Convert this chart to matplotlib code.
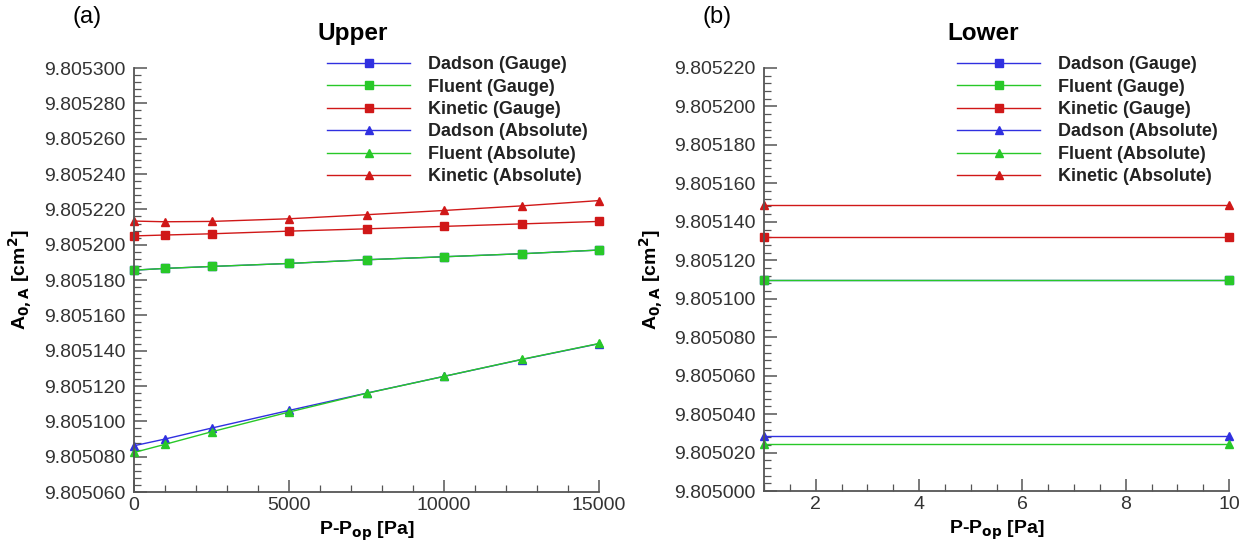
import matplotlib
matplotlib.use("Agg")
import matplotlib.pyplot as plt
from matplotlib.ticker import MultipleLocator, FormatStrFormatter

plt.rcParams["font.family"] = ["Liberation Sans", "DejaVu Sans"]

# dados (a) upper
p_upper = [0, 1000, 2500, 5000, 7500, 10000, 12500, 15000]
dadson_gauge_up = [9.8051856, 9.8051866, 9.8051877, 9.8051894, 9.8051915, 9.8051932, 9.8051949, 9.8051970]
fluent_gauge_up = [9.8051856, 9.8051866, 9.8051877, 9.8051894, 9.8051915, 9.8051932, 9.8051949, 9.8051970]
kinetic_gauge_up = [9.8052050, 9.8052055, 9.8052062, 9.8052077, 9.8052090, 9.8052104, 9.8052118, 9.8052132]
dadson_abs_up = [9.8050862, 9.8050900, 9.8050962, 9.8051062, 9.8051160, 9.8051255, 9.8051350, 9.8051440]
fluent_abs_up = [9.8050824, 9.8050870, 9.8050941, 9.8051053, 9.8051159, 9.8051255, 9.8051351, 9.8051441]
kinetic_abs_up = [9.8052134, 9.8052130, 9.8052132, 9.8052147, 9.8052170, 9.8052194, 9.8052220, 9.8052250]

# dados do grafico (b) lower
p_lower = [1, 10]
dadson_gauge_lo = [9.8051100, 9.8051100]
fluent_gauge_lo = [9.8051100, 9.8051100]
kinetic_gauge_lo = [9.8051320, 9.8051320]
dadson_abs_lo = [9.8050286, 9.8050286]
fluent_abs_lo = [9.8050247, 9.8050247]
kinetic_abs_lo = [9.8051487, 9.8051487]

labels = ["Dadson (Gauge)", "Fluent (Gauge)", "Kinetic (Gauge)",
          "Dadson (Absolute)", "Fluent (Absolute)", "Kinetic (Absolute)"]
colors = ["#3030e0", "#28c828", "#d01818", "#3030e0", "#28c828", "#d01818"]
markers = ["s", "s", "s", "^", "^", "^"]

fig = plt.figure(figsize=(12.47, 5.47), dpi=100)
ax1 = fig.add_axes([0.1075, 0.1005, 0.373, 0.775])
ax2 = fig.add_axes([0.6127, 0.1023, 0.373, 0.7734])

series_up = [dadson_gauge_up, fluent_gauge_up, kinetic_gauge_up,
             dadson_abs_up, fluent_abs_up, kinetic_abs_up]
series_lo = [dadson_gauge_lo, fluent_gauge_lo, kinetic_gauge_lo,
             dadson_abs_lo, fluent_abs_lo, kinetic_abs_lo]


def draw_panel(ax, x, series, title, letter):
    for ys, lab, c, m in zip(series, labels, colors, markers):
        ax.plot(x, ys, color=c, lw=1.0, marker=m, ms=5.5, label=lab, clip_on=False)

    for side in ["top", "right"]:
        ax.spines[side].set_visible(False)
    for side in ["left", "bottom"]:
        ax.spines[side].set_color("#555555")
        ax.spines[side].set_linewidth(1.3)

    ax.tick_params(which="both", direction="in", colors="#555555", labelcolor="#333333",
                   labelsize=14)
    ax.tick_params(which="major", length=9, width=1.1)
    ax.tick_params(which="minor", length=5, width=0.9)
    ax.tick_params(axis="y", pad=6)
    ax.yaxis.set_major_formatter(FormatStrFormatter("%.6f"))

    ax.set_xlabel("P-P$_{\\mathbf{op}}$ [Pa]", fontsize=14, fontweight="bold", labelpad=4)
    ax.set_ylabel("A$_{\\mathbf{0,A}}$ [cm$^{\\mathbf{2}}$]", fontsize=14, fontweight="bold")

    # titulo e letra do painel ficam acima do eixo
    ax.text(0.395, 1.0825, title, transform=ax.transAxes, fontsize=17.5, fontweight="bold",
            ha="left", va="center")
    ax.text(-0.101, 1.12, letter, transform=ax.transAxes, fontsize=17, ha="center",
            va="center")

    leg = ax.legend(loc="upper left", bbox_to_anchor=(0.4, 1.045), frameon=False,
                    fontsize=13, numpoints=1, handlelength=4.6, handletextpad=1.0,
                    labelspacing=0.3, borderaxespad=0)
    for t in leg.get_texts():
        t.set_fontweight("bold")
        t.set_color("#222222")


draw_panel(ax1, p_upper, series_up, "Upper", "(a)")
ax1.set_xlim(0, 15000)
ax1.set_ylim(9.805060, 9.805300)
ax1.xaxis.set_major_locator(MultipleLocator(5000))
ax1.xaxis.set_minor_locator(MultipleLocator(1000))
ax1.yaxis.set_major_locator(MultipleLocator(0.00002))
ax1.yaxis.set_minor_locator(MultipleLocator(0.000004))
ax1.yaxis.set_label_coords(-0.215, 0.5)

draw_panel(ax2, p_lower, series_lo, "Lower", "(b)")
ax2.set_xlim(1, 10)
ax2.set_ylim(9.805000, 9.805220)
ax2.xaxis.set_major_locator(MultipleLocator(2))
ax2.xaxis.set_minor_locator(MultipleLocator(0.5))
ax2.yaxis.set_major_locator(MultipleLocator(0.00002))
ax2.yaxis.set_minor_locator(MultipleLocator(0.000004))
ax2.yaxis.set_label_coords(-0.212, 0.5)

fig.savefig("out.png", dpi=100)
